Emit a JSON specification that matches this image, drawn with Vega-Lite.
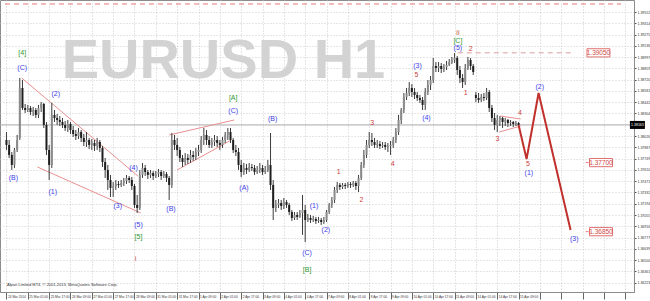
{
"$schema":"https://vega.github.io/schema/vega-lite/v6.json",
"width":634,"height":292,
"autosize":{"type":"none"},
"padding":{"left":0,"top":0,"right":16,"bottom":9},
"background":"white",
"config":{"view":{"stroke":"#8c8c8c","strokeWidth":1},"font":"Liberation Sans",
 "axisX":{"labelAlign":"left","labelBaseline":"top","labelPadding":-5,"labelOffset":1,"labelFontSize":3.2,"labelFont":"Liberation Sans","labelColor":"#333333","labelOverlap":false,"labelBound":false,"labelFlush":false,"tickSize":7,"tickColor":"#666666","domainColor":"#8c8c8c","grid":true,"gridColor":"#cccccc","gridDash":[1,2],"title":null},
 "axisY":{"labelFontSize":3.5,"labelFont":"Liberation Sans","labelColor":"#333333","labelPadding":1,"tickSize":2,"tickColor":"#555555","domainColor":"#8c8c8c","grid":true,"gridColor":"#cccccc","gridDash":[1,2],"labelBaseline":"middle","labelOverlap":false,"labelBound":false,"labelFlush":false,"title":null}
},
"datasets":{
"candles":[
{"t":0,"o":1.37978,"h":1.38076,"l":1.37855,"c":1.37917},
{"t":2,"o":1.37917,"h":1.37978,"l":1.37757,"c":1.37794},
{"t":4,"o":1.37794,"h":1.3783,"l":1.37609,"c":1.37671},
{"t":6,"o":1.37671,"h":1.3788,"l":1.37634,"c":1.37855},
{"t":8,"o":1.37855,"h":1.3804,"l":1.3783,"c":1.37978},
{"t":10,"o":1.38003,"h":1.38741,"l":1.37978,"c":1.38618},
{"t":12,"o":1.38618,"h":1.38716,"l":1.38347,"c":1.38372},
{"t":14,"o":1.38372,"h":1.38421,"l":1.3831,"c":1.38347},
{"t":16,"o":1.38347,"h":1.38409,"l":1.38322,"c":1.38372},
{"t":18,"o":1.38372,"h":1.38396,"l":1.38286,"c":1.38322},
{"t":20,"o":1.38322,"h":1.38384,"l":1.38273,"c":1.38347},
{"t":22,"o":1.38347,"h":1.38372,"l":1.38249,"c":1.38286},
{"t":24,"o":1.38286,"h":1.38409,"l":1.38249,"c":1.38372},
{"t":26,"o":1.38372,"h":1.38445,"l":1.38322,"c":1.38421},
{"t":28,"o":1.38421,"h":1.38433,"l":1.38126,"c":1.38163},
{"t":30,"o":1.38163,"h":1.38199,"l":1.37794,"c":1.37855},
{"t":32,"o":1.37855,"h":1.37917,"l":1.37486,"c":1.37671},
{"t":34,"o":1.37671,"h":1.38433,"l":1.37634,"c":1.38286},
{"t":36,"o":1.38286,"h":1.38347,"l":1.38199,"c":1.38249},
{"t":38,"o":1.38249,"h":1.38298,"l":1.38163,"c":1.38224},
{"t":40,"o":1.38224,"h":1.38273,"l":1.3815,"c":1.38199},
{"t":42,"o":1.38199,"h":1.38249,"l":1.38126,"c":1.38163},
{"t":44,"o":1.38163,"h":1.38212,"l":1.38089,"c":1.38126},
{"t":46,"o":1.38126,"h":1.38224,"l":1.38076,"c":1.38175},
{"t":48,"o":1.38175,"h":1.38199,"l":1.38052,"c":1.38101},
{"t":50,"o":1.38101,"h":1.3815,"l":1.38015,"c":1.38052},
{"t":52,"o":1.38052,"h":1.38101,"l":1.37978,"c":1.38027},
{"t":54,"o":1.38027,"h":1.38126,"l":1.3799,"c":1.38076},
{"t":56,"o":1.38076,"h":1.38101,"l":1.37953,"c":1.38003},
{"t":58,"o":1.38003,"h":1.38052,"l":1.37904,"c":1.37953},
{"t":60,"o":1.37953,"h":1.38076,"l":1.37892,"c":1.37978},
{"t":62,"o":1.37978,"h":1.38003,"l":1.37867,"c":1.37917},
{"t":64,"o":1.37917,"h":1.3799,"l":1.37855,"c":1.37941},
{"t":66,"o":1.37941,"h":1.37978,"l":1.37843,"c":1.37904},
{"t":68,"o":1.37904,"h":1.38003,"l":1.37855,"c":1.37953},
{"t":70,"o":1.37953,"h":1.37978,"l":1.3783,"c":1.3788},
{"t":72,"o":1.3788,"h":1.37904,"l":1.37646,"c":1.37707},
{"t":74,"o":1.37707,"h":1.37757,"l":1.37511,"c":1.37609},
{"t":76,"o":1.37609,"h":1.37671,"l":1.37363,"c":1.37486},
{"t":78,"o":1.37486,"h":1.37548,"l":1.37277,"c":1.37388},
{"t":80,"o":1.37388,"h":1.37461,"l":1.37277,"c":1.37412},
{"t":82,"o":1.37412,"h":1.37486,"l":1.37363,"c":1.37437},
{"t":84,"o":1.37437,"h":1.37474,"l":1.37388,"c":1.37425},
{"t":86,"o":1.37425,"h":1.37486,"l":1.374,"c":1.37449},
{"t":88,"o":1.37449,"h":1.37511,"l":1.37412,"c":1.37474},
{"t":90,"o":1.37474,"h":1.37548,"l":1.37437,"c":1.37511},
{"t":92,"o":1.37511,"h":1.37535,"l":1.37449,"c":1.37486},
{"t":94,"o":1.37486,"h":1.37523,"l":1.37363,"c":1.37412},
{"t":96,"o":1.37412,"h":1.37437,"l":1.37142,"c":1.37179},
{"t":98,"o":1.37179,"h":1.37302,"l":1.3708,"c":1.37142},
{"t":100,"o":1.37142,"h":1.37609,"l":1.37117,"c":1.37548},
{"t":102,"o":1.37548,"h":1.37695,"l":1.37511,"c":1.37634},
{"t":104,"o":1.37634,"h":1.37671,"l":1.37535,"c":1.37584},
{"t":106,"o":1.37584,"h":1.37609,"l":1.37498,"c":1.37548},
{"t":108,"o":1.37548,"h":1.37609,"l":1.37511,"c":1.37572},
{"t":110,"o":1.37572,"h":1.37597,"l":1.37486,"c":1.37535},
{"t":112,"o":1.37535,"h":1.37597,"l":1.37511,"c":1.3756},
{"t":114,"o":1.3756,"h":1.37621,"l":1.37523,"c":1.37584},
{"t":116,"o":1.37584,"h":1.37609,"l":1.37486,"c":1.37535},
{"t":118,"o":1.37535,"h":1.37597,"l":1.37511,"c":1.3756},
{"t":120,"o":1.3756,"h":1.37584,"l":1.37461,"c":1.37511},
{"t":122,"o":1.37511,"h":1.37535,"l":1.3724,"c":1.37425},
{"t":124,"o":1.37425,"h":1.38064,"l":1.37388,"c":1.37978},
{"t":126,"o":1.37978,"h":1.3804,"l":1.37855,"c":1.37917},
{"t":128,"o":1.37917,"h":1.38003,"l":1.37781,"c":1.37855},
{"t":130,"o":1.37855,"h":1.37892,"l":1.37707,"c":1.37757},
{"t":132,"o":1.37757,"h":1.37794,"l":1.37646,"c":1.37707},
{"t":134,"o":1.37707,"h":1.37818,"l":1.37671,"c":1.37757},
{"t":136,"o":1.37757,"h":1.37806,"l":1.37683,"c":1.37732},
{"t":138,"o":1.37732,"h":1.37855,"l":1.37695,"c":1.37794},
{"t":140,"o":1.37794,"h":1.37843,"l":1.3772,"c":1.37769},
{"t":142,"o":1.37769,"h":1.3788,"l":1.37732,"c":1.3783},
{"t":144,"o":1.3783,"h":1.37917,"l":1.37781,"c":1.37855},
{"t":146,"o":1.37855,"h":1.38027,"l":1.37818,"c":1.37978},
{"t":148,"o":1.37978,"h":1.38126,"l":1.37917,"c":1.3804},
{"t":150,"o":1.3804,"h":1.38101,"l":1.37917,"c":1.37978},
{"t":152,"o":1.37978,"h":1.38027,"l":1.3788,"c":1.37917},
{"t":154,"o":1.37917,"h":1.38003,"l":1.3788,"c":1.37953},
{"t":156,"o":1.37953,"h":1.3804,"l":1.37904,"c":1.37978},
{"t":158,"o":1.37978,"h":1.38027,"l":1.37892,"c":1.37941},
{"t":160,"o":1.37941,"h":1.37978,"l":1.37855,"c":1.37917},
{"t":162,"o":1.37917,"h":1.38015,"l":1.3788,"c":1.37978},
{"t":164,"o":1.37978,"h":1.38076,"l":1.37941,"c":1.3804},
{"t":166,"o":1.3804,"h":1.38126,"l":1.37978,"c":1.38076},
{"t":168,"o":1.38076,"h":1.38126,"l":1.37941,"c":1.37978},
{"t":170,"o":1.37978,"h":1.38003,"l":1.37818,"c":1.37855},
{"t":172,"o":1.37855,"h":1.37917,"l":1.37781,"c":1.3783},
{"t":174,"o":1.3783,"h":1.3788,"l":1.37609,"c":1.37671},
{"t":176,"o":1.37671,"h":1.37732,"l":1.37523,"c":1.37584},
{"t":178,"o":1.37584,"h":1.37695,"l":1.37548,"c":1.37634},
{"t":180,"o":1.37634,"h":1.37683,"l":1.3756,"c":1.37609},
{"t":182,"o":1.37609,"h":1.37695,"l":1.37584,"c":1.37646},
{"t":184,"o":1.37646,"h":1.37683,"l":1.37597,"c":1.37634},
{"t":186,"o":1.37634,"h":1.37671,"l":1.37548,"c":1.37584},
{"t":188,"o":1.37584,"h":1.37658,"l":1.3756,"c":1.37609},
{"t":190,"o":1.37609,"h":1.37695,"l":1.37572,"c":1.37634},
{"t":192,"o":1.37634,"h":1.37671,"l":1.37548,"c":1.37584},
{"t":194,"o":1.37584,"h":1.37658,"l":1.3756,"c":1.37609},
{"t":196,"o":1.37609,"h":1.37732,"l":1.37584,"c":1.37671},
{"t":198,"o":1.37671,"h":1.38064,"l":1.37363,"c":1.37425},
{"t":200,"o":1.37425,"h":1.37486,"l":1.36994,"c":1.37142},
{"t":202,"o":1.37142,"h":1.3724,"l":1.37092,"c":1.37179},
{"t":204,"o":1.37179,"h":1.37252,"l":1.37142,"c":1.37203},
{"t":206,"o":1.37203,"h":1.3724,"l":1.37117,"c":1.37166},
{"t":208,"o":1.37166,"h":1.37265,"l":1.37129,"c":1.37215},
{"t":210,"o":1.37215,"h":1.3724,"l":1.37142,"c":1.37179},
{"t":212,"o":1.37179,"h":1.37203,"l":1.37056,"c":1.37092},
{"t":214,"o":1.37092,"h":1.37117,"l":1.36982,"c":1.37019},
{"t":216,"o":1.37019,"h":1.37092,"l":1.36994,"c":1.37056},
{"t":218,"o":1.37056,"h":1.37092,"l":1.36994,"c":1.37031},
{"t":220,"o":1.37031,"h":1.37117,"l":1.37019,"c":1.3708},
{"t":222,"o":1.3708,"h":1.37302,"l":1.3681,"c":1.37117},
{"t":224,"o":1.37117,"h":1.37179,"l":1.36723,"c":1.36994},
{"t":226,"o":1.36994,"h":1.37068,"l":1.36969,"c":1.37019},
{"t":228,"o":1.37019,"h":1.37056,"l":1.36957,"c":1.36994},
{"t":230,"o":1.36994,"h":1.37043,"l":1.36969,"c":1.37006},
{"t":232,"o":1.37006,"h":1.37031,"l":1.36945,"c":1.36982},
{"t":234,"o":1.36982,"h":1.37031,"l":1.36957,"c":1.36994},
{"t":236,"o":1.36994,"h":1.37019,"l":1.36933,"c":1.36969},
{"t":238,"o":1.36969,"h":1.37031,"l":1.36945,"c":1.36994},
{"t":240,"o":1.36994,"h":1.37117,"l":1.36969,"c":1.37092},
{"t":242,"o":1.37092,"h":1.37203,"l":1.37068,"c":1.37179},
{"t":244,"o":1.37179,"h":1.37277,"l":1.37142,"c":1.3724},
{"t":246,"o":1.3724,"h":1.374,"l":1.37203,"c":1.37363},
{"t":248,"o":1.37363,"h":1.37461,"l":1.37326,"c":1.37425},
{"t":250,"o":1.37425,"h":1.37449,"l":1.37363,"c":1.374},
{"t":252,"o":1.374,"h":1.37449,"l":1.37375,"c":1.37425},
{"t":254,"o":1.37425,"h":1.37449,"l":1.37375,"c":1.37412},
{"t":256,"o":1.37412,"h":1.37461,"l":1.37388,"c":1.37437},
{"t":258,"o":1.37437,"h":1.37461,"l":1.37388,"c":1.37425},
{"t":260,"o":1.37425,"h":1.37474,"l":1.374,"c":1.37449},
{"t":262,"o":1.37449,"h":1.37474,"l":1.37363,"c":1.37412},
{"t":264,"o":1.37412,"h":1.37548,"l":1.37338,"c":1.37511},
{"t":266,"o":1.37511,"h":1.37707,"l":1.37486,"c":1.37671},
{"t":268,"o":1.37671,"h":1.37855,"l":1.37634,"c":1.37794},
{"t":270,"o":1.37794,"h":1.37978,"l":1.37757,"c":1.37917},
{"t":272,"o":1.37917,"h":1.38076,"l":1.3788,"c":1.37978},
{"t":274,"o":1.37978,"h":1.38064,"l":1.37904,"c":1.37953},
{"t":276,"o":1.37953,"h":1.38003,"l":1.3788,"c":1.37917},
{"t":278,"o":1.37917,"h":1.37978,"l":1.3788,"c":1.37929},
{"t":280,"o":1.37929,"h":1.37966,"l":1.37867,"c":1.37904},
{"t":282,"o":1.37904,"h":1.37953,"l":1.3788,"c":1.37917},
{"t":284,"o":1.37917,"h":1.37953,"l":1.37855,"c":1.37892},
{"t":286,"o":1.37892,"h":1.37941,"l":1.3783,"c":1.37904},
{"t":288,"o":1.37904,"h":1.37966,"l":1.37794,"c":1.37917},
{"t":290,"o":1.37917,"h":1.38015,"l":1.3788,"c":1.37978},
{"t":292,"o":1.37978,"h":1.38126,"l":1.37941,"c":1.38076},
{"t":294,"o":1.38076,"h":1.38286,"l":1.3804,"c":1.38224},
{"t":296,"o":1.38224,"h":1.38372,"l":1.38175,"c":1.38347},
{"t":298,"o":1.38347,"h":1.38556,"l":1.3831,"c":1.38507},
{"t":300,"o":1.38507,"h":1.38618,"l":1.3847,"c":1.38556},
{"t":302,"o":1.38556,"h":1.38691,"l":1.38519,"c":1.38618},
{"t":304,"o":1.38618,"h":1.38667,"l":1.38507,"c":1.38568},
{"t":306,"o":1.38568,"h":1.38618,"l":1.38482,"c":1.38532},
{"t":308,"o":1.38532,"h":1.38568,"l":1.38458,"c":1.38495},
{"t":310,"o":1.38495,"h":1.38532,"l":1.38433,"c":1.3847},
{"t":312,"o":1.3847,"h":1.38507,"l":1.38347,"c":1.38409},
{"t":314,"o":1.38409,"h":1.38618,"l":1.38347,"c":1.38568},
{"t":316,"o":1.38568,"h":1.38716,"l":1.38532,"c":1.38655},
{"t":318,"o":1.38655,"h":1.38765,"l":1.38593,"c":1.38716},
{"t":320,"o":1.38716,"h":1.38987,"l":1.38679,"c":1.38888},
{"t":322,"o":1.38888,"h":1.38937,"l":1.38814,"c":1.38864},
{"t":324,"o":1.38864,"h":1.38937,"l":1.38814,"c":1.38888},
{"t":326,"o":1.38888,"h":1.38925,"l":1.38802,"c":1.38851},
{"t":328,"o":1.38851,"h":1.38913,"l":1.38814,"c":1.38876},
{"t":330,"o":1.38876,"h":1.3895,"l":1.38839,"c":1.38901},
{"t":332,"o":1.38901,"h":1.38974,"l":1.38888,"c":1.38937},
{"t":334,"o":1.38937,"h":1.38999,"l":1.38913,"c":1.38962},
{"t":336,"o":1.38962,"h":1.39048,"l":1.38925,"c":1.38987},
{"t":338,"o":1.38987,"h":1.39011,"l":1.38778,"c":1.38839},
{"t":340,"o":1.38839,"h":1.38888,"l":1.38679,"c":1.38741},
{"t":342,"o":1.38741,"h":1.3879,"l":1.38618,"c":1.38691},
{"t":344,"o":1.38691,"h":1.38913,"l":1.38655,"c":1.38864},
{"t":346,"o":1.38864,"h":1.38999,"l":1.38839,"c":1.38962},
{"t":348,"o":1.38962,"h":1.38987,"l":1.38839,"c":1.38888},
{"t":350,"o":1.38888,"h":1.38913,"l":1.38778,"c":1.38814},
{"t":352,"o":1.38532,"h":1.38568,"l":1.38445,"c":1.38495},
{"t":354,"o":1.38495,"h":1.38556,"l":1.38433,"c":1.3847},
{"t":356,"o":1.3847,"h":1.38544,"l":1.38445,"c":1.38507},
{"t":358,"o":1.38507,"h":1.38556,"l":1.38458,"c":1.38495},
{"t":360,"o":1.38495,"h":1.38618,"l":1.3847,"c":1.38568},
{"t":362,"o":1.38568,"h":1.38593,"l":1.38322,"c":1.38372},
{"t":364,"o":1.38372,"h":1.38409,"l":1.38199,"c":1.38249},
{"t":366,"o":1.38249,"h":1.3831,"l":1.38101,"c":1.38163},
{"t":368,"o":1.38163,"h":1.38286,"l":1.38076,"c":1.38224},
{"t":370,"o":1.38224,"h":1.38273,"l":1.3815,"c":1.38249},
{"t":372,"o":1.38249,"h":1.38261,"l":1.38126,"c":1.38199},
{"t":374,"o":1.38199,"h":1.38249,"l":1.3815,"c":1.38224},
{"t":376,"o":1.38224,"h":1.38236,"l":1.38138,"c":1.38187},
{"t":378,"o":1.38187,"h":1.38224,"l":1.3815,"c":1.38199},
{"t":380,"o":1.38199,"h":1.38212,"l":1.38138,"c":1.38175},
{"t":382,"o":1.38175,"h":1.38212,"l":1.3815,"c":1.38187},
{"t":384,"o":1.38187,"h":1.38199,"l":1.38138,"c":1.38163}
],
"waves":[
{"t":11.8,"p":1.38864,"txt":"(C)","kind":"minor"},
{"t":37,"p":1.38544,"txt":"(2)","kind":"minor"},
{"t":5.2,"p":1.37511,"txt":"(B)","kind":"minor"},
{"t":34.7,"p":1.37338,"txt":"(1)","kind":"minor"},
{"t":83.5,"p":1.37166,"txt":"(3)","kind":"minor"},
{"t":95.3,"p":1.37634,"txt":"(4)","kind":"minor"},
{"t":99,"p":1.36933,"txt":"(5)","kind":"minor"},
{"t":123.4,"p":1.37129,"txt":"(B)","kind":"minor"},
{"t":170,"p":1.38335,"txt":"(C)","kind":"minor"},
{"t":199.6,"p":1.38236,"txt":"(B)","kind":"minor"},
{"t":178.1,"p":1.37388,"txt":"(A)","kind":"minor"},
{"t":230.6,"p":1.37166,"txt":"(1)","kind":"minor"},
{"t":239.5,"p":1.36871,"txt":"(2)","kind":"minor"},
{"t":225.4,"p":1.36588,"txt":"(C)","kind":"minor"},
{"t":308.2,"p":1.38888,"txt":"(3)","kind":"minor"},
{"t":314.9,"p":1.38249,"txt":"(4)","kind":"minor"},
{"t":338.5,"p":1.3911,"txt":"(5)","kind":"minor"},
{"t":399.9,"p":1.3863,"txt":"(2)","kind":"minor"},
{"t":391.7,"p":1.37572,"txt":"(1)","kind":"minor"},
{"t":425.7,"p":1.3676,"txt":"(3)","kind":"minor"},
{"t":11.8,"p":1.39048,"txt":"[4]","kind":"major"},
{"t":99,"p":1.36785,"txt":"[5]","kind":"major"},
{"t":170,"p":1.38495,"txt":"[A]","kind":"major"},
{"t":225.4,"p":1.36379,"txt":"[B]","kind":"major"},
{"t":338.5,"p":1.39196,"txt":"[C]","kind":"major"},
{"t":249.1,"p":1.37584,"txt":"1","kind":"sub"},
{"t":266.1,"p":1.3724,"txt":"2","kind":"sub"},
{"t":274.2,"p":1.38187,"txt":"3","kind":"sub"},
{"t":289.7,"p":1.37683,"txt":"4","kind":"sub"},
{"t":307.5,"p":1.38778,"txt":"5","kind":"sub"},
{"t":344.4,"p":1.38556,"txt":"1","kind":"sub"},
{"t":348.1,"p":1.39097,"txt":"2","kind":"sub"},
{"t":368.1,"p":1.3799,"txt":"3","kind":"sub"},
{"t":385.1,"p":1.3831,"txt":"4","kind":"sub"},
{"t":391,"p":1.37683,"txt":"5","kind":"sub"},
{"t":96.8,"p":1.36514,"txt":"i","kind":"cycle"},
{"t":338.5,"p":1.39294,"txt":"ii","kind":"cycle"}
],
"trend":[
{"t":11.4,"p":1.38741,"t2":98.5,"p2":1.37535},
{"t":23.2,"p":1.37646,"t2":100.7,"p2":1.3708},
{"t":122.1,"p":1.3804,"t2":170.8,"p2":1.38224},
{"t":128,"p":1.37609,"t2":168.6,"p2":1.37978},
{"t":370.1,"p":1.38273,"t2":385.6,"p2":1.38236},
{"t":369.4,"p":1.38076,"t2":385.6,"p2":1.3815}
],
"proj":[
{"t":384,"p":1.38163},{"t":390,"p":1.37744},{"t":399,"p":1.38556},{"t":423,"p":1.36871}
],
"levels":[
{"name":"top","t":-1.1,"t2":460.9,"p":1.39651},
{"name":"target","t":338.4,"t2":423.2,"p":1.3905},
{"name":"stub","t":434.3,"t2":436.5,"p":1.377},
{"name":"stub","t":434.3,"t2":436.5,"p":1.3685}
],
"targets":[
{"t":443.9,"p":1.3905,"txt":"1.39050"},
{"t":445.8,"p":1.377,"txt":"1.37700"},
{"t":445.8,"p":1.3685,"txt":"1.36850"}
],
"bid":[{"t":473.1,"p":1.38163,"txt":"1.38163"}],
"notes":[
{"t":162.7,"p":1.38741,"txt":"EURUSD H1","kind":"watermark"},
{"t":0.4,"p":1.36195,"txt":"Alpari Limited MT4, © 2001-2013, MetaQuotes Software Corp.","kind":"copyright"}
]
},
"layer":[
{"data":{"name":"notes"},"transform":[{"filter":"datum.kind == 'watermark'"}],
 "mark":{"type":"text","fontSize":56,"fontWeight":"bold","font":"Liberation Sans","color":"#d3d3d3","align":"center","baseline":"alphabetic"},
 "encoding":{
  "x":{"field":"t","type":"quantitative","scale":{"domain":[-1.1,466.8],"nice":false,"zero":false},"title":null,
   "axis":{"orient":"bottom","values":[0,16,32,48,64,80,96,112,128,144,160,176,192,208,224,240,256,272,288,304,320,336,352,368,384,400,416,432,448,464],
    "labelExpr":"datum.value <= 384 ? ['24 Mar 2014','25 Mar 01:00','25 Mar 17:00','26 Mar 09:00','27 Mar 01:00','27 Mar 17:00','28 Mar 09:00','31 Mar 01:00','31 Mar 17:00','1 Apr 09:00','2 Apr 01:00','2 Apr 17:00','3 Apr 09:00','4 Apr 01:00','4 Apr 17:00','7 Apr 09:00','8 Apr 01:00','8 Apr 17:00','9 Apr 09:00','10 Apr 01:00','10 Apr 17:00','11 Apr 09:00','14 Apr 01:00','14 Apr 17:00','15 Apr 09:00'][round(datum.value/16)] : ''"}},
  "y":{"field":"p","type":"quantitative","scale":{"domain":[1.36108,1.397],"nice":false,"zero":false},"title":null,
   "axis":{"orient":"right","values":[1.39552,1.39414,1.39275,1.39136,1.38997,1.38859,1.3872,1.38581,1.38442,1.38304,1.38026,1.37887,1.37749,1.3761,1.37471,1.37332,1.37194,1.37055,1.36916,1.36777,1.36639,1.365,1.36361,1.36223],"format":".5f"}},
  "text":{"field":"txt"}}},
{"data":{"name":"notes"},"transform":[{"filter":"datum.kind == 'copyright'"}],
 "mark":{"type":"text","fontSize":4,"font":"Liberation Sans","color":"#333333","align":"left","baseline":"middle"},
 "encoding":{
  "x":{"field":"t","type":"quantitative","scale":{"domain":[-1.1,466.8],"nice":false,"zero":false},"title":null,
   "axis":{"orient":"bottom","values":[0,16,32,48,64,80,96,112,128,144,160,176,192,208,224,240,256,272,288,304,320,336,352,368,384,400,416,432,448,464],
    "labelExpr":"datum.value <= 384 ? ['24 Mar 2014','25 Mar 01:00','25 Mar 17:00','26 Mar 09:00','27 Mar 01:00','27 Mar 17:00','28 Mar 09:00','31 Mar 01:00','31 Mar 17:00','1 Apr 09:00','2 Apr 01:00','2 Apr 17:00','3 Apr 09:00','4 Apr 01:00','4 Apr 17:00','7 Apr 09:00','8 Apr 01:00','8 Apr 17:00','9 Apr 09:00','10 Apr 01:00','10 Apr 17:00','11 Apr 09:00','14 Apr 01:00','14 Apr 17:00','15 Apr 09:00'][round(datum.value/16)] : ''"}},
  "y":{"field":"p","type":"quantitative","scale":{"domain":[1.36108,1.397],"nice":false,"zero":false},"title":null,
   "axis":{"orient":"right","values":[1.39552,1.39414,1.39275,1.39136,1.38997,1.38859,1.3872,1.38581,1.38442,1.38304,1.38026,1.37887,1.37749,1.3761,1.37471,1.37332,1.37194,1.37055,1.36916,1.36777,1.36639,1.365,1.36361,1.36223],"format":".5f"}},
  "text":{"field":"txt"}}},
{"data":{"name":"bid"},
 "mark":{"type":"rule","color":"#a8a8a8","strokeWidth":1},
 "encoding":{
  "y":{"field":"p","type":"quantitative","scale":{"domain":[1.36108,1.397],"nice":false,"zero":false},"title":null,
   "axis":{"orient":"right","values":[1.39552,1.39414,1.39275,1.39136,1.38997,1.38859,1.3872,1.38581,1.38442,1.38304,1.38026,1.37887,1.37749,1.3761,1.37471,1.37332,1.37194,1.37055,1.36916,1.36777,1.36639,1.365,1.36361,1.36223],"format":".5f"}}}},
{"data":{"name":"levels"},
 "mark":{"type":"rule","strokeWidth":1,"strokeDash":[5,4]},
 "encoding":{
  "x":{"field":"t","type":"quantitative","scale":{"domain":[-1.1,466.8],"nice":false,"zero":false},"title":null,
   "axis":{"orient":"bottom","values":[0,16,32,48,64,80,96,112,128,144,160,176,192,208,224,240,256,272,288,304,320,336,352,368,384,400,416,432,448,464],
    "labelExpr":"datum.value <= 384 ? ['24 Mar 2014','25 Mar 01:00','25 Mar 17:00','26 Mar 09:00','27 Mar 01:00','27 Mar 17:00','28 Mar 09:00','31 Mar 01:00','31 Mar 17:00','1 Apr 09:00','2 Apr 01:00','2 Apr 17:00','3 Apr 09:00','4 Apr 01:00','4 Apr 17:00','7 Apr 09:00','8 Apr 01:00','8 Apr 17:00','9 Apr 09:00','10 Apr 01:00','10 Apr 17:00','11 Apr 09:00','14 Apr 01:00','14 Apr 17:00','15 Apr 09:00'][round(datum.value/16)] : ''"}},
  "x2":{"field":"t2"},
  "y":{"field":"p","type":"quantitative","scale":{"domain":[1.36108,1.397],"nice":false,"zero":false},"title":null,
   "axis":{"orient":"right","values":[1.39552,1.39414,1.39275,1.39136,1.38997,1.38859,1.3872,1.38581,1.38442,1.38304,1.38026,1.37887,1.37749,1.3761,1.37471,1.37332,1.37194,1.37055,1.36916,1.36777,1.36639,1.365,1.36361,1.36223],"format":".5f"}},
  "color":{"condition":[{"test":"datum.name == 'target'","value":"#d8a0a0"}],"value":"#e47a7a"}}},
{"data":{"name":"trend"},
 "mark":{"type":"rule","strokeWidth":1,"color":"#e89090"},
 "encoding":{
  "x":{"field":"t","type":"quantitative","scale":{"domain":[-1.1,466.8],"nice":false,"zero":false},"title":null,
   "axis":{"orient":"bottom","values":[0,16,32,48,64,80,96,112,128,144,160,176,192,208,224,240,256,272,288,304,320,336,352,368,384,400,416,432,448,464],
    "labelExpr":"datum.value <= 384 ? ['24 Mar 2014','25 Mar 01:00','25 Mar 17:00','26 Mar 09:00','27 Mar 01:00','27 Mar 17:00','28 Mar 09:00','31 Mar 01:00','31 Mar 17:00','1 Apr 09:00','2 Apr 01:00','2 Apr 17:00','3 Apr 09:00','4 Apr 01:00','4 Apr 17:00','7 Apr 09:00','8 Apr 01:00','8 Apr 17:00','9 Apr 09:00','10 Apr 01:00','10 Apr 17:00','11 Apr 09:00','14 Apr 01:00','14 Apr 17:00','15 Apr 09:00'][round(datum.value/16)] : ''"}},
  "x2":{"field":"t2"},
  "y":{"field":"p","type":"quantitative","scale":{"domain":[1.36108,1.397],"nice":false,"zero":false},"title":null,
   "axis":{"orient":"right","values":[1.39552,1.39414,1.39275,1.39136,1.38997,1.38859,1.3872,1.38581,1.38442,1.38304,1.38026,1.37887,1.37749,1.3761,1.37471,1.37332,1.37194,1.37055,1.36916,1.36777,1.36639,1.365,1.36361,1.36223],"format":".5f"}},
  "y2":{"field":"p2"}}},
{"data":{"name":"candles"},
 "mark":{"type":"rule","strokeWidth":1,"color":"#3c3c3c"},
 "encoding":{
  "x":{"field":"t","type":"quantitative","scale":{"domain":[-1.1,466.8],"nice":false,"zero":false},"title":null,
   "axis":{"orient":"bottom","values":[0,16,32,48,64,80,96,112,128,144,160,176,192,208,224,240,256,272,288,304,320,336,352,368,384,400,416,432,448,464],
    "labelExpr":"datum.value <= 384 ? ['24 Mar 2014','25 Mar 01:00','25 Mar 17:00','26 Mar 09:00','27 Mar 01:00','27 Mar 17:00','28 Mar 09:00','31 Mar 01:00','31 Mar 17:00','1 Apr 09:00','2 Apr 01:00','2 Apr 17:00','3 Apr 09:00','4 Apr 01:00','4 Apr 17:00','7 Apr 09:00','8 Apr 01:00','8 Apr 17:00','9 Apr 09:00','10 Apr 01:00','10 Apr 17:00','11 Apr 09:00','14 Apr 01:00','14 Apr 17:00','15 Apr 09:00'][round(datum.value/16)] : ''"}},
  "y":{"field":"l","type":"quantitative","scale":{"domain":[1.36108,1.397],"nice":false,"zero":false},"title":null,
   "axis":{"orient":"right","values":[1.39552,1.39414,1.39275,1.39136,1.38997,1.38859,1.3872,1.38581,1.38442,1.38304,1.38026,1.37887,1.37749,1.3761,1.37471,1.37332,1.37194,1.37055,1.36916,1.36777,1.36639,1.365,1.36361,1.36223],"format":".5f"}},
  "y2":{"field":"h"}}},
{"data":{"name":"candles"},
 "mark":{"type":"bar","size":2},
 "encoding":{
  "x":{"field":"t","type":"quantitative","scale":{"domain":[-1.1,466.8],"nice":false,"zero":false},"title":null,
   "axis":{"orient":"bottom","values":[0,16,32,48,64,80,96,112,128,144,160,176,192,208,224,240,256,272,288,304,320,336,352,368,384,400,416,432,448,464],
    "labelExpr":"datum.value <= 384 ? ['24 Mar 2014','25 Mar 01:00','25 Mar 17:00','26 Mar 09:00','27 Mar 01:00','27 Mar 17:00','28 Mar 09:00','31 Mar 01:00','31 Mar 17:00','1 Apr 09:00','2 Apr 01:00','2 Apr 17:00','3 Apr 09:00','4 Apr 01:00','4 Apr 17:00','7 Apr 09:00','8 Apr 01:00','8 Apr 17:00','9 Apr 09:00','10 Apr 01:00','10 Apr 17:00','11 Apr 09:00','14 Apr 01:00','14 Apr 17:00','15 Apr 09:00'][round(datum.value/16)] : ''"}},
  "y":{"field":"o","type":"quantitative","scale":{"domain":[1.36108,1.397],"nice":false,"zero":false},"title":null,
   "axis":{"orient":"right","values":[1.39552,1.39414,1.39275,1.39136,1.38997,1.38859,1.3872,1.38581,1.38442,1.38304,1.38026,1.37887,1.37749,1.3761,1.37471,1.37332,1.37194,1.37055,1.36916,1.36777,1.36639,1.365,1.36361,1.36223],"format":".5f"}},
  "y2":{"field":"c"},
  "color":{"condition":{"test":"datum.c < datum.o","value":"#1e1e1e"},"value":"#8a8a8a"}}},
{"data":{"name":"proj"},
 "mark":{"type":"line","strokeWidth":2,"color":"#c0302c"},
 "encoding":{
  "x":{"field":"t","type":"quantitative","scale":{"domain":[-1.1,466.8],"nice":false,"zero":false},"title":null,
   "axis":{"orient":"bottom","values":[0,16,32,48,64,80,96,112,128,144,160,176,192,208,224,240,256,272,288,304,320,336,352,368,384,400,416,432,448,464],
    "labelExpr":"datum.value <= 384 ? ['24 Mar 2014','25 Mar 01:00','25 Mar 17:00','26 Mar 09:00','27 Mar 01:00','27 Mar 17:00','28 Mar 09:00','31 Mar 01:00','31 Mar 17:00','1 Apr 09:00','2 Apr 01:00','2 Apr 17:00','3 Apr 09:00','4 Apr 01:00','4 Apr 17:00','7 Apr 09:00','8 Apr 01:00','8 Apr 17:00','9 Apr 09:00','10 Apr 01:00','10 Apr 17:00','11 Apr 09:00','14 Apr 01:00','14 Apr 17:00','15 Apr 09:00'][round(datum.value/16)] : ''"}},
  "y":{"field":"p","type":"quantitative","scale":{"domain":[1.36108,1.397],"nice":false,"zero":false},"title":null,
   "axis":{"orient":"right","values":[1.39552,1.39414,1.39275,1.39136,1.38997,1.38859,1.3872,1.38581,1.38442,1.38304,1.38026,1.37887,1.37749,1.3761,1.37471,1.37332,1.37194,1.37055,1.36916,1.36777,1.36639,1.365,1.36361,1.36223],"format":".5f"}},
  "order":{"field":"t"}}},
{"data":{"name":"waves"},
 "mark":{"type":"text","fontSize":7,"font":"Liberation Sans","align":"center","baseline":"middle"},
 "encoding":{
  "x":{"field":"t","type":"quantitative","scale":{"domain":[-1.1,466.8],"nice":false,"zero":false},"title":null,
   "axis":{"orient":"bottom","values":[0,16,32,48,64,80,96,112,128,144,160,176,192,208,224,240,256,272,288,304,320,336,352,368,384,400,416,432,448,464],
    "labelExpr":"datum.value <= 384 ? ['24 Mar 2014','25 Mar 01:00','25 Mar 17:00','26 Mar 09:00','27 Mar 01:00','27 Mar 17:00','28 Mar 09:00','31 Mar 01:00','31 Mar 17:00','1 Apr 09:00','2 Apr 01:00','2 Apr 17:00','3 Apr 09:00','4 Apr 01:00','4 Apr 17:00','7 Apr 09:00','8 Apr 01:00','8 Apr 17:00','9 Apr 09:00','10 Apr 01:00','10 Apr 17:00','11 Apr 09:00','14 Apr 01:00','14 Apr 17:00','15 Apr 09:00'][round(datum.value/16)] : ''"}},
  "y":{"field":"p","type":"quantitative","scale":{"domain":[1.36108,1.397],"nice":false,"zero":false},"title":null,
   "axis":{"orient":"right","values":[1.39552,1.39414,1.39275,1.39136,1.38997,1.38859,1.3872,1.38581,1.38442,1.38304,1.38026,1.37887,1.37749,1.3761,1.37471,1.37332,1.37194,1.37055,1.36916,1.36777,1.36639,1.365,1.36361,1.36223],"format":".5f"}},
  "text":{"field":"txt"},
  "color":{"condition":[{"test":"datum.kind == 'minor'","value":"#3c3ce6"},{"test":"datum.kind == 'major'","value":"#2f9a2f"},{"test":"datum.kind == 'sub'","value":"#cc4040"}],"value":"#b8503c"}}},
{"data":{"name":"targets"},
 "mark":{"type":"point","shape":"M-1.4,-0.5H1.4V0.5H-1.4Z","size":269,"filled":true,"fill":"white","stroke":"#e07070","strokeWidth":1,"opacity":1},
 "encoding":{
  "x":{"field":"t","type":"quantitative","scale":{"domain":[-1.1,466.8],"nice":false,"zero":false},"title":null,
   "axis":{"orient":"bottom","values":[0,16,32,48,64,80,96,112,128,144,160,176,192,208,224,240,256,272,288,304,320,336,352,368,384,400,416,432,448,464],
    "labelExpr":"datum.value <= 384 ? ['24 Mar 2014','25 Mar 01:00','25 Mar 17:00','26 Mar 09:00','27 Mar 01:00','27 Mar 17:00','28 Mar 09:00','31 Mar 01:00','31 Mar 17:00','1 Apr 09:00','2 Apr 01:00','2 Apr 17:00','3 Apr 09:00','4 Apr 01:00','4 Apr 17:00','7 Apr 09:00','8 Apr 01:00','8 Apr 17:00','9 Apr 09:00','10 Apr 01:00','10 Apr 17:00','11 Apr 09:00','14 Apr 01:00','14 Apr 17:00','15 Apr 09:00'][round(datum.value/16)] : ''"}},
  "y":{"field":"p","type":"quantitative","scale":{"domain":[1.36108,1.397],"nice":false,"zero":false},"title":null,
   "axis":{"orient":"right","values":[1.39552,1.39414,1.39275,1.39136,1.38997,1.38859,1.3872,1.38581,1.38442,1.38304,1.38026,1.37887,1.37749,1.3761,1.37471,1.37332,1.37194,1.37055,1.36916,1.36777,1.36639,1.365,1.36361,1.36223],"format":".5f"}}}},
{"data":{"name":"targets"},
 "mark":{"type":"text","fontSize":6.5,"font":"Liberation Sans","color":"#d04848","align":"center","baseline":"middle"},
 "encoding":{
  "x":{"field":"t","type":"quantitative","scale":{"domain":[-1.1,466.8],"nice":false,"zero":false},"title":null,
   "axis":{"orient":"bottom","values":[0,16,32,48,64,80,96,112,128,144,160,176,192,208,224,240,256,272,288,304,320,336,352,368,384,400,416,432,448,464],
    "labelExpr":"datum.value <= 384 ? ['24 Mar 2014','25 Mar 01:00','25 Mar 17:00','26 Mar 09:00','27 Mar 01:00','27 Mar 17:00','28 Mar 09:00','31 Mar 01:00','31 Mar 17:00','1 Apr 09:00','2 Apr 01:00','2 Apr 17:00','3 Apr 09:00','4 Apr 01:00','4 Apr 17:00','7 Apr 09:00','8 Apr 01:00','8 Apr 17:00','9 Apr 09:00','10 Apr 01:00','10 Apr 17:00','11 Apr 09:00','14 Apr 01:00','14 Apr 17:00','15 Apr 09:00'][round(datum.value/16)] : ''"}},
  "y":{"field":"p","type":"quantitative","scale":{"domain":[1.36108,1.397],"nice":false,"zero":false},"title":null,
   "axis":{"orient":"right","values":[1.39552,1.39414,1.39275,1.39136,1.38997,1.38859,1.3872,1.38581,1.38442,1.38304,1.38026,1.37887,1.37749,1.3761,1.37471,1.37332,1.37194,1.37055,1.36916,1.36777,1.36639,1.365,1.36361,1.36223],"format":".5f"}},
  "text":{"field":"txt"}}},
{"data":{"name":"bid"},
 "mark":{"type":"point","shape":"M-0.9375,-0.5H0.9375V0.5H-0.9375Z","size":256,"filled":true,"color":"#000000","opacity":1},
 "encoding":{
  "x":{"field":"t","type":"quantitative","scale":{"domain":[-1.1,466.8],"nice":false,"zero":false},"title":null,
   "axis":{"orient":"bottom","values":[0,16,32,48,64,80,96,112,128,144,160,176,192,208,224,240,256,272,288,304,320,336,352,368,384,400,416,432,448,464],
    "labelExpr":"datum.value <= 384 ? ['24 Mar 2014','25 Mar 01:00','25 Mar 17:00','26 Mar 09:00','27 Mar 01:00','27 Mar 17:00','28 Mar 09:00','31 Mar 01:00','31 Mar 17:00','1 Apr 09:00','2 Apr 01:00','2 Apr 17:00','3 Apr 09:00','4 Apr 01:00','4 Apr 17:00','7 Apr 09:00','8 Apr 01:00','8 Apr 17:00','9 Apr 09:00','10 Apr 01:00','10 Apr 17:00','11 Apr 09:00','14 Apr 01:00','14 Apr 17:00','15 Apr 09:00'][round(datum.value/16)] : ''"}},
  "y":{"field":"p","type":"quantitative","scale":{"domain":[1.36108,1.397],"nice":false,"zero":false},"title":null,
   "axis":{"orient":"right","values":[1.39552,1.39414,1.39275,1.39136,1.38997,1.38859,1.3872,1.38581,1.38442,1.38304,1.38026,1.37887,1.37749,1.3761,1.37471,1.37332,1.37194,1.37055,1.36916,1.36777,1.36639,1.365,1.36361,1.36223],"format":".5f"}}}},
{"data":{"name":"bid"},
 "mark":{"type":"text","fontSize":3.5,"font":"Liberation Sans","color":"#ffffff","align":"center","baseline":"middle"},
 "encoding":{
  "x":{"field":"t","type":"quantitative","scale":{"domain":[-1.1,466.8],"nice":false,"zero":false},"title":null,
   "axis":{"orient":"bottom","values":[0,16,32,48,64,80,96,112,128,144,160,176,192,208,224,240,256,272,288,304,320,336,352,368,384,400,416,432,448,464],
    "labelExpr":"datum.value <= 384 ? ['24 Mar 2014','25 Mar 01:00','25 Mar 17:00','26 Mar 09:00','27 Mar 01:00','27 Mar 17:00','28 Mar 09:00','31 Mar 01:00','31 Mar 17:00','1 Apr 09:00','2 Apr 01:00','2 Apr 17:00','3 Apr 09:00','4 Apr 01:00','4 Apr 17:00','7 Apr 09:00','8 Apr 01:00','8 Apr 17:00','9 Apr 09:00','10 Apr 01:00','10 Apr 17:00','11 Apr 09:00','14 Apr 01:00','14 Apr 17:00','15 Apr 09:00'][round(datum.value/16)] : ''"}},
  "y":{"field":"p","type":"quantitative","scale":{"domain":[1.36108,1.397],"nice":false,"zero":false},"title":null,
   "axis":{"orient":"right","values":[1.39552,1.39414,1.39275,1.39136,1.38997,1.38859,1.3872,1.38581,1.38442,1.38304,1.38026,1.37887,1.37749,1.3761,1.37471,1.37332,1.37194,1.37055,1.36916,1.36777,1.36639,1.365,1.36361,1.36223],"format":".5f"}},
  "text":{"field":"txt"}}}
]
}
